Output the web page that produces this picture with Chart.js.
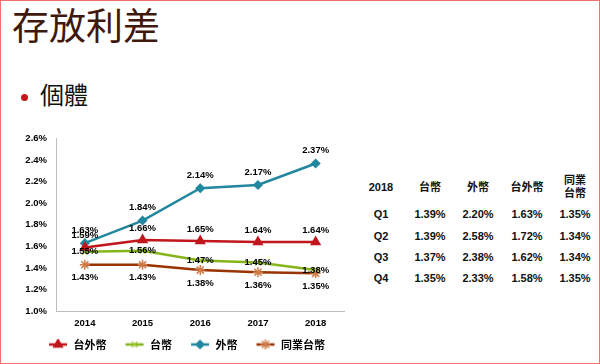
<!DOCTYPE html>
<html>
<head>
<meta charset="utf-8">
<script src="https://cdn.jsdelivr.net/npm/chart.js@4/dist/chart.umd.min.js"></script>
<style>
  html, body { margin: 0; padding: 0; background: #fff; }
  #page { position: relative; width: 598px; height: 362px; border: 1px solid #f27070; overflow: hidden;
          font-family: "Noto Sans CJK TC", sans-serif; }
  #title { position: absolute; left: 11px; top: 0px; font-size: 37px; line-height: 46px; color: #40180c; }
  #bullet { position: absolute; left: 20px; top: 93px; width: 7px; height: 7px; border-radius: 50%; background: #c5161d; }
  #sub { position: absolute; left: 39px; top: 78px; font-size: 24px; line-height: 30px; color: #111; }
  #wrap { position: absolute; left: 0; top: 123px; width: 350px; height: 236px; }
  .cell { position: absolute; width: 60px; text-align: center; font: bold 11px "Liberation Sans", Arial, "Noto Sans CJK TC", sans-serif;
          line-height: 13px; color: #111; }
</style>
</head>
<body>
<div id="page">
  <div id="title">存放利差</div>
  <div id="bullet"></div>
  <div id="sub">個體</div>
  <div id="wrap"><canvas id="chart"></canvas></div>
  <div id="table"></div>
</div>
<script>
// chart data
const years = ['2014', '2015', '2016', '2017', '2018'];
const twForeign = [1.59, 1.66, 1.65, 1.64, 1.64]; // 台外幣
const twd = [1.55, 1.56, 1.47, 1.45, 1.38];       // 台幣
const foreign = [1.63, 1.84, 2.14, 2.17, 2.37];   // 外幣
const peerTwd = [1.43, 1.43, 1.38, 1.36, 1.35];   // 同業台幣

// 2018 quarterly table
const tableHead = ['2018', '台幣', '外幣', '台外幣', '同業<br>台幣'];
const quarters = ['Q1', 'Q2', 'Q3', 'Q4'];
const qTwd = ['1.39%', '1.39%', '1.37%', '1.35%'];
const qForeign = ['2.20%', '2.58%', '2.38%', '2.33%'];
const qTwForeign = ['1.63%', '1.72%', '1.62%', '1.58%'];
const qPeer = ['1.35%', '1.34%', '1.34%', '1.35%'];

// build the table
const colX = [380, 429, 477, 526, 574];
const rowY = [186, 213, 235, 256, 277];
const table = document.getElementById('table');
function cell(html, col, row, lines) {
  const d = document.createElement('div');
  d.className = 'cell';
  d.innerHTML = html;
  d.style.left = (colX[col] - 30) + 'px';
  d.style.top = (rowY[row] - 6.5 * (lines || 1)) + 'px';
  table.appendChild(d);
}
tableHead.forEach((h, i) => cell(h, i, 0, i === 4 ? 2 : 1));
quarters.forEach((q, r) => {
  cell(q, 0, r + 1);
  cell(qTwd[r], 1, r + 1);
  cell(qForeign[r], 2, r + 1);
  cell(qTwForeign[r], 3, r + 1);
  cell(qPeer[r], 4, r + 1);
});

// value labels next to each point
const pointLabels = {
  id: 'pointLabels',
  afterDatasetsDraw(chart) {
    const ctx = chart.ctx;
    ctx.save();
    ctx.font = 'bold 9.5px "Liberation Sans", Arial, sans-serif';
    ctx.fillStyle = '#000';
    ctx.textAlign = 'center';
    ctx.textBaseline = 'middle';
    chart.data.datasets.forEach((ds, i) => {
      chart.getDatasetMeta(i).data.forEach((pt, j) => {
        ctx.fillText(ds.data[j].toFixed(2) + '%', pt.x, pt.y + ds.labelShift);
      });
    });
    ctx.restore();
  }
};

// legend icon: short line with the marker on it
function legendIcon(ds) {
  const c = document.createElement('canvas');
  c.width = 32; c.height = 12;
  const g = c.getContext('2d');
  g.strokeStyle = ds.borderColor;
  g.lineWidth = 2.5;
  g.beginPath(); g.moveTo(13, 6); g.lineTo(31, 6); g.stroke();
  g.fillStyle = ds.pointBackgroundColor;
  g.strokeStyle = ds.pointBorderColor;
  g.lineWidth = 1.5;
  Chart.helpers.drawPoint(g, { pointStyle: ds.pointStyle, radius: ds.pointRadius, borderWidth: 1.5, rotation: 0 }, 22, 6);
  return c;
}

function series(label, data, color, markColor, style, radius, shift) {
  return {
    label, data,
    borderColor: color, backgroundColor: color,
    borderWidth: 2.5,
    pointStyle: style, pointRadius: radius,
    pointBackgroundColor: markColor, pointBorderColor: markColor, pointBorderWidth: 1.5,
    tension: 0,
    labelShift: shift
  };
}

const tickFont = { family: '"Liberation Sans", Arial, sans-serif', size: 9.5, weight: 'bold' };

new Chart(document.getElementById('chart'), {
  type: 'line',
  data: {
    labels: years,
    datasets: [
      series('台外幣', twForeign, '#c0161c', '#c0161c', 'triangle', 5, -12),
      series('台幣', twd, '#86b51a', '#9cc83a', 'crossRot', 4, 0),
      series('外幣', foreign, '#22879f', '#22879f', 'rectRot', 4, -13),
      series('同業台幣', peerTwd, '#993300', '#d07a45', 'star', 5, 13)
    ]
  },
  options: {
    responsive: true,
    maintainAspectRatio: false,
    animation: false,
    layout: { padding: { top: 10, left: 14, right: 5, bottom: 0 } },
    scales: {
      x: {
        offset: true,
        grid: { display: false, drawTicks: false },
        border: { display: true, color: '#bdbdbd', width: 1 },
        ticks: { padding: 7, color: '#000', font: tickFont },
        afterFit(scale) { scale.height = 22; }
      },
      y: {
        min: 1.0, max: 2.6,
        grid: { display: false, drawTicks: false },
        border: { display: true, color: '#bdbdbd', width: 1 },
        ticks: {
          stepSize: 0.2, padding: 9, color: '#000', font: tickFont,
          callback: v => v.toFixed(1) + '%'
        },
        afterFit(scale) { scale.width = 41; }
      }
    },
    plugins: {
      tooltip: { enabled: false },
      legend: {
        position: 'bottom',
        labels: {
          usePointStyle: true,
          pointStyleWidth: 32,
          padding: 6,
          color: '#000',
          font: { family: '"Noto Sans CJK TC", sans-serif', size: 11, weight: 'bold' },
          generateLabels(chart) {
            const items = Chart.defaults.plugins.legend.labels.generateLabels(chart);
            items.forEach((it, i) => { it.pointStyle = legendIcon(chart.data.datasets[i]); });
            return items;
          }
        }
      }
    }
  },
  plugins: [pointLabels]
});
</script>
</body>
</html>
